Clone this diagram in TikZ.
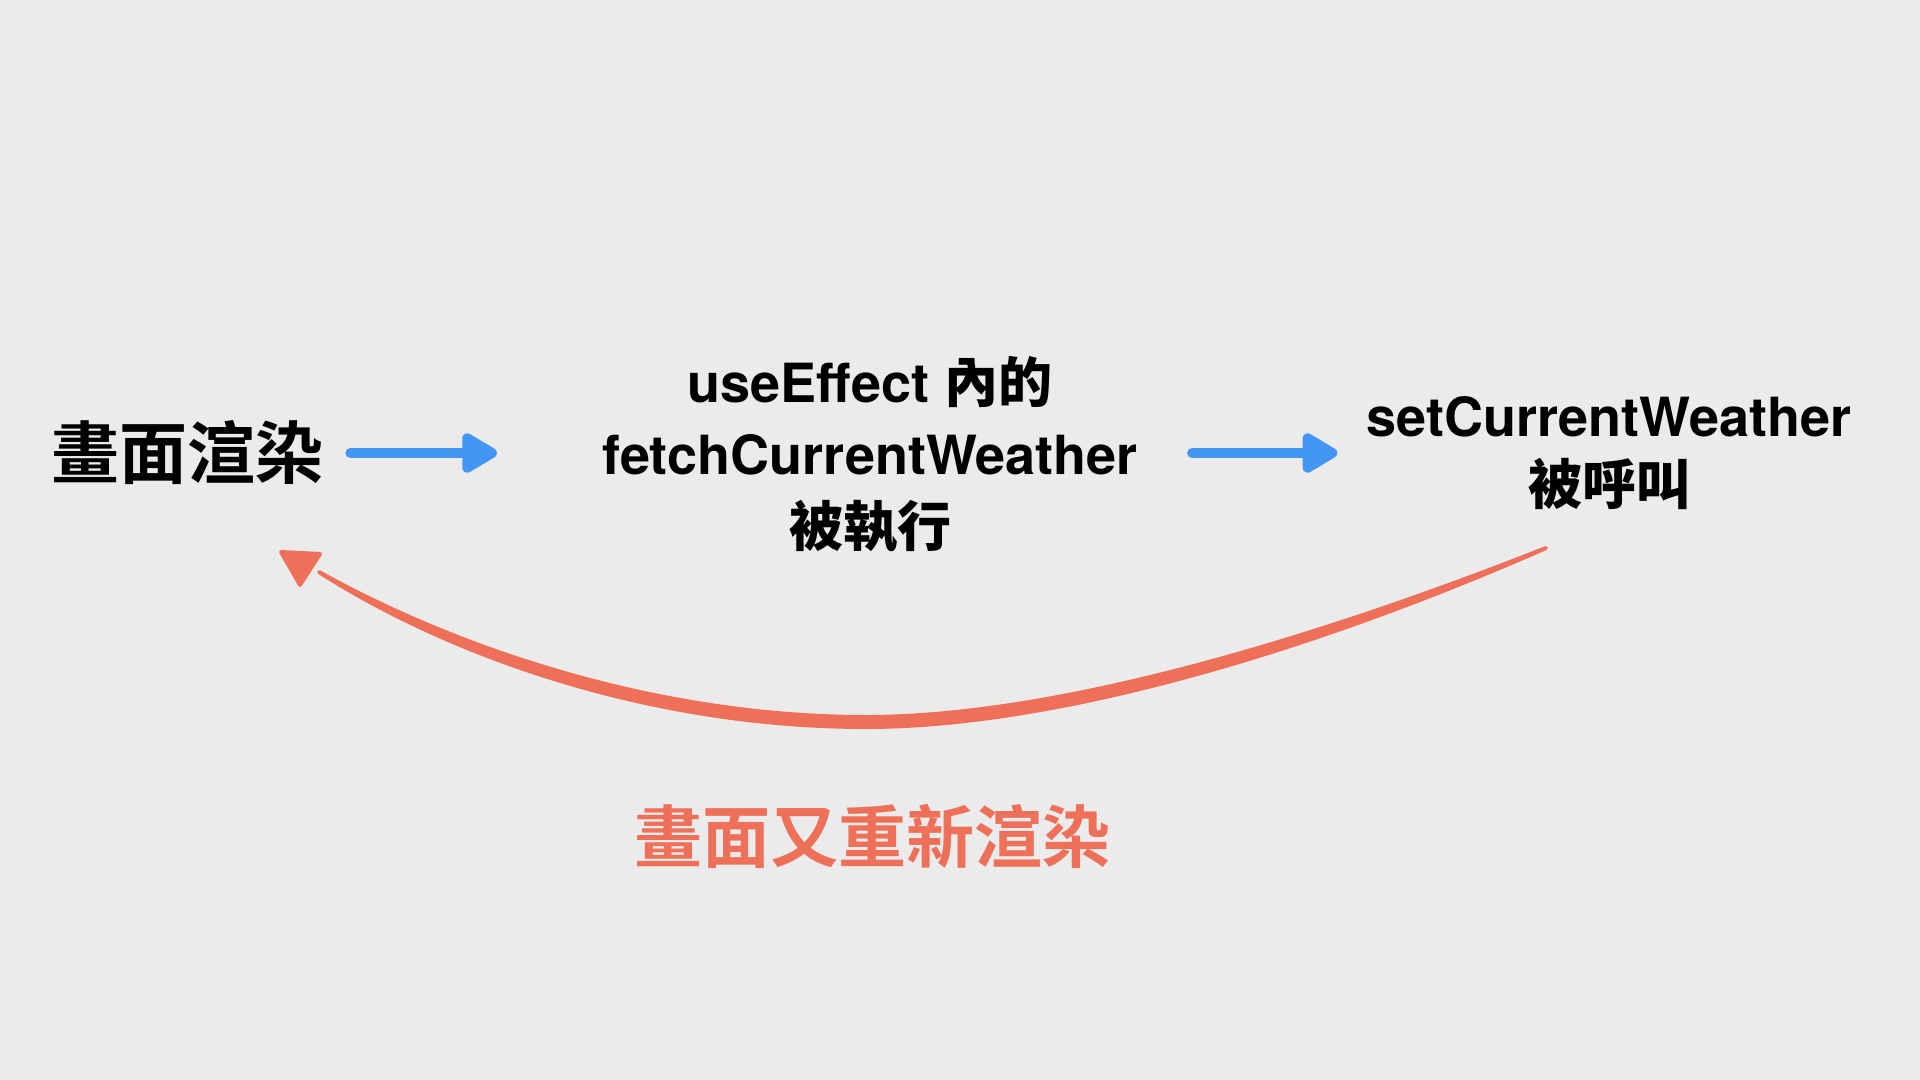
\documentclass[tikz,border=0pt]{standalone}
\usepackage{fontspec}
\setmainfont{TeX Gyre Heros}
\newfontfamily\cjk{Noto Sans CJK TC}[UprightFont={* Bold}]
\usetikzlibrary{arrows.meta}
\definecolor{bgc}{HTML}{EBEBEB}
\definecolor{bluec}{HTML}{4496F5}
\definecolor{redc}{HTML}{EE7059}
\begin{document}
\begin{tikzpicture}[x=0.5pt,y=-0.5pt,
  big/.style={inner sep=0pt, font=\cjk\fontsize{34pt}{40pt}\selectfont},
  midtext/.style={inner sep=0pt, align=center, font=\bfseries\fontsize{27pt}{36pt}\selectfont},
  righttext/.style={inner sep=0pt, align=center, font=\bfseries\fontsize{27pt}{34pt}\selectfont},
  bluearrow/.style={draw=bluec, line width=5pt, line cap=round,
    -{Triangle[length=20pt,width=22pt,round]}},
  redfill/.style={fill=redc, draw=redc, line width=2pt, line join=round},
]
\fill[bgc] (0,0) rectangle (1920,1080);
\useasboundingbox (0,0) rectangle (1920,1080);

\node[big] (n1) at (187,453) {畫面渲染};
\node[midtext] (n2) at (870,455) {useEffect {\cjk 內的}\\fetchCurrentWeather\\{\cjk 被執行}};
\node[righttext] (n3) at (1609,453) {setCurrentWeather\\{\cjk 被呼叫}};
\node[big, text=redc] (lbl) at (872,836) {畫面又重新渲染};

\draw[bluearrow, shorten <=13.5pt, shorten >=52.5pt] (n1.east) -- (n1.east -| n2.west);
\draw[bluearrow, shorten <=27pt, shorten >=14.5pt] (n3.west -| n2.east) -- (n3.west);

\coordinate (cs) at (1546,548);
\coordinate (ce) at (319,572);
\fill[redfill] (cs) .. controls (1300,656) and (1050,727) .. (866,727)
  .. controls (650,727) and (450,656) .. (ce)
  .. controls (450,645) and (650,717) .. (866,717)
  .. controls (1050,717) and (1300,645) .. (cs) -- cycle;
\fill[redfill] (281,552) -- (320,554) -- (300,585) -- cycle;
\end{tikzpicture}
\end{document}
